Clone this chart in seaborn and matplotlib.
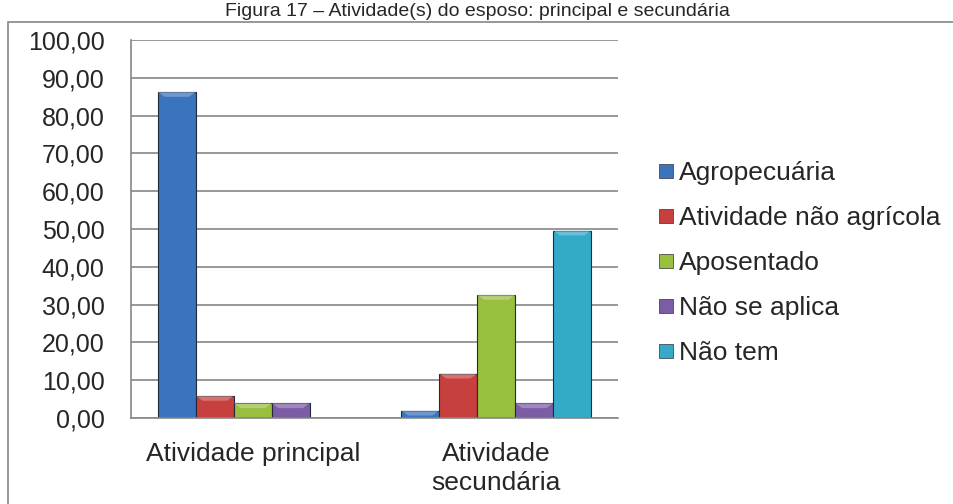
import numpy as np
import pandas as pd
import matplotlib
matplotlib.use('Agg')
import matplotlib.pyplot as plt
import matplotlib.colors as mcolors
from matplotlib.patches import Rectangle, Polygon
from matplotlib.lines import Line2D
import seaborn as sns

categories = ['Atividade principal', 'Atividade\nsecundária']
series = ['Agropecuária', 'Atividade não agrícola', 'Aposentado', 'Não se aplica', 'Não tem']
principal = [86.27, 5.88, 3.92, 3.92, 0.0]
secundaria = [1.96, 11.76, 32.55, 3.92, 49.6]
colors = ['#3A73BE', '#C8403D', '#99BF3E', '#7D5CA6', '#33AAC8']
y_ticks = [0, 10, 20, 30, 40, 50, 60, 70, 80, 90, 100]

df = pd.DataFrame({
    'categoria': [categories[0]] * len(series) + [categories[1]] * len(series),
    'serie': series + series,
    'valor': principal + secundaria,
})

sns.set_style('white')
plt.rcParams['font.family'] = ['Liberation Sans', 'DejaVu Sans']

fig = plt.figure(figsize=(9.54, 5.04), dpi=100)
ax = fig.add_axes([131 / 954, 1 - 418 / 504, (618 - 131) / 954, (418 - 40) / 504])

sns.barplot(data=df, x='categoria', y='valor', hue='serie', order=categories,
            hue_order=series, palette=colors, saturation=1, width=0.78,
            edgecolor='#1f2a3a', linewidth=0.8, legend=False, ax=ax)

# light bevel on top of each bar
for p in ax.patches:
    h = p.get_height()
    if h <= 0:
        p.set_visible(False)
        continue
    x0, w = p.get_x(), p.get_width()
    base = mcolors.to_rgb(p.get_facecolor())
    light = tuple(min(1, c * 0.55 + 0.45) for c in base)
    bh = min(h, 1.3)
    ins = w * 0.18
    ax.add_patch(Polygon([(x0, h), (x0 + w, h), (x0 + w - ins, h - bh), (x0 + ins, h - bh)],
                         closed=True, facecolor=light, edgecolor='none', alpha=0.6, zorder=3))

ax.set_ylim(0, 100)
ax.set_xlim(-0.5, 1.5)
ax.set_yticks(y_ticks)
ax.set_yticklabels([f'{v:.2f}'.replace('.', ',') for v in y_ticks], fontsize=18)
ax.set_xticks([0, 1])
ax.set_xticklabels(categories, fontsize=19, linespacing=1.3)
ax.set_xticks([-0.5, 0.5, 1.5], minor=True)
ax.tick_params(axis='x', which='major', length=0, pad=17)
ax.tick_params(axis='x', which='minor', length=8, color='#868686', width=1.2, direction='out')
ax.tick_params(axis='y', length=8, color='#868686', width=1.2, direction='out', pad=11)
ax.yaxis.grid(True, color='#868686', linewidth=1.2)
ax.set_axisbelow(True)
ax.set_xlabel('')
ax.set_ylabel('')
for s in ['top', 'right']:
    ax.spines[s].set_visible(False)
for s in ['left', 'bottom']:
    ax.spines[s].set_color('#868686')
    ax.spines[s].set_linewidth(1.2)

handles = [Line2D([0], [0], marker='s', linestyle='', markersize=10,
                  markerfacecolor=c, markeredgecolor='#333333', markeredgewidth=0.5)
           for c in colors]
fig.legend(handles, series, loc='upper left', bbox_to_anchor=(657 / 954, 1 - 161 / 504),
           frameon=False, fontsize=19, handlelength=0.7, handletextpad=0.15,
           labelspacing=0.8, borderaxespad=0, borderpad=0)

# outer chart frame
fig.patches.append(Rectangle((8 / 954, -0.01), 2, 1 - 22 / 504 + 0.01, transform=fig.transFigure,
                             fill=False, edgecolor='#868686', linewidth=1.2))

fig.text(477 / 954, 1 - 11 / 504, 'Figura 17 – Atividade(s) do esposo: principal e secundária',
         ha='center', va='center', fontsize=14)

fig.savefig('out.png', dpi=100)
